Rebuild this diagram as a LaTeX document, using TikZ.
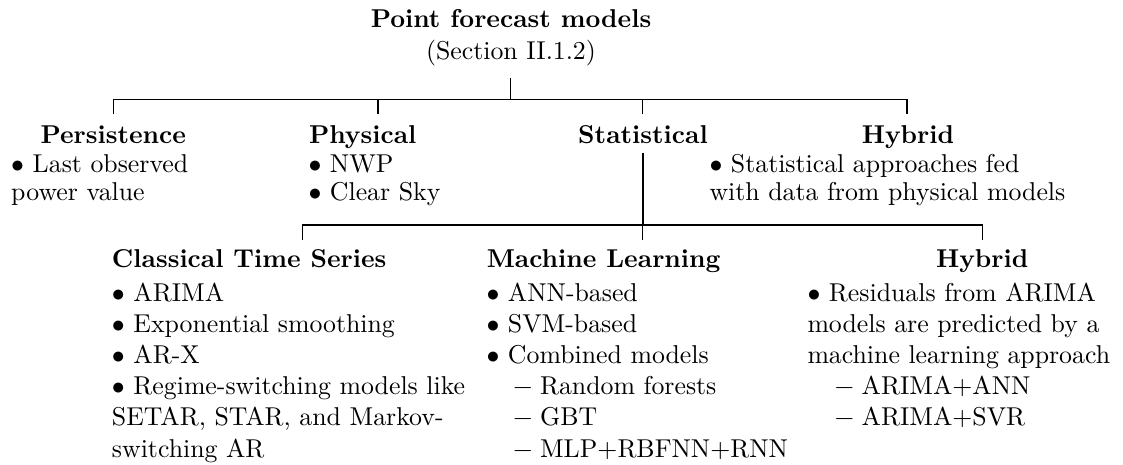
\documentclass[tikz,border=0pt]{standalone}
\usepackage{graphicx}
\newcommand\basefont{\fontsize{10pt}{12pt}\selectfont}
\newcommand\lvlonefont{\fontsize{10pt}{11.05pt}\selectfont}
\newcommand\lvltwofont{\fontsize{10pt}{12.09pt}\selectfont}
\newcommand\myDashItem{\hspace*{10pt}\scalebox{1.05}[1]{$-$}\hspace{2.6pt}}
\begin{document}
\begin{tikzpicture}[x=0.969pt,y=0.969pt,
  every node/.style={inner sep=0pt, outer sep=0pt, font=\basefont},
  head/.style={font=\basefont\bfseries, anchor=base},
  headw/.style={font=\basefont\bfseries, anchor=base west},
  itemsone/.style={align=left, anchor=north west, font=\lvlonefont},
  itemstwo/.style={align=left, anchor=north west, font=\lvltwofont},
  link/.style={line width=0.4pt},
  trunk/.style={line width=0.8pt}]
\useasboundingbox (0,0) rectangle (449.2,-186);
% root
\node[head] (root) at (204.4,-10.9) {Point forecast models};
\node[anchor=base] (rootsec) at (204.4,-23.7) {(Section II.1.2)};
% level 1
\node[head] (pers) at (45.3,-57.3) {Persistence};
\node[itemsone] (persI) at (4.5,-61.0) {\strut$\bullet$ Last observed\\power value};
\node[headw] (phys) at (123.6,-57.3) {Physical};
\node[itemsone] (physI) at (123.4,-61.0) {\strut$\bullet$ NWP\\$\bullet$ Clear Sky};
\node[head] (stat) at (257.2,-57.3) {Statistical};
\node[head] (hyb) at (363.2,-57.3) {Hybrid};
\node[itemsone] (hybI) at (283.8,-61.0) {\strut$\bullet$ Statistical approaches fed\\with data from physical models};
% level 2
\node[headw] (cts) at (44.8,-107.2) {Classical Time Series};
\node[itemstwo] (ctsI) at (44.8,-111.7) {\strut$\bullet$ ARIMA\\$\bullet$ Exponential smoothing\\$\bullet$ AR-X\\$\bullet$ Regime-switching models like\\SETAR, STAR, and Markov-\\switching AR};
\node[headw] (ml) at (194.7,-107.2) {Machine Learning};
\node[itemstwo] (mlI) at (194.6,-111.7) {\strut$\bullet$ ANN-based\\$\bullet$ SVM-based\\$\bullet$ Combined models\\\myDashItem Random forests\\\myDashItem GBT\\\myDashItem MLP+RBFNN+RNN};
\node[head] (hyb2) at (392.9,-107.2) {Hybrid};
\node[itemstwo] (hyb2I) at (323,-111.7) {\strut$\bullet$ Residuals from ARIMA\\models are predicted by a\\machine learning approach\\\hspace*{0.25pt}\myDashItem ARIMA+ANN\\\hspace*{0.25pt}\myDashItem ARIMA+SVR};
% junction coordinates
\coordinate (rtop) at (204.3,-31.2);
\coordinate (jroot) at (204.3,-39.8);
\coordinate (dPers) at (45.4,-45.6);
\coordinate (dPhys) at (151.2,-45.6);
\coordinate (dStat) at (257.1,-45.6);
\coordinate (dHyb) at (362.8,-45.6);
\coordinate (sTop) at (257.1,-61.3);
\coordinate (jstat) at (257.1,-90);
\coordinate (dCts) at (121,-96);
\coordinate (dMl) at (257.1,-96);
\coordinate (dHyb2) at (393.1,-96);
% connectors
\draw[link] (rtop) -- (jroot);
\draw[link] (dPers) -- (dPers |- jroot) -- (dHyb |- jroot) -- (dHyb);
\draw[link] (dPhys) -- (dPhys |- jroot);
\draw[link] (dStat) -- (jroot -| dStat);
\draw[trunk] (sTop) -- (jstat);
\draw[link] (dCts) -- (dCts |- jstat) -- (dHyb2 |- jstat) -- (dHyb2);
\draw[link] (jstat) -- (dMl);
\end{tikzpicture}
\end{document}
